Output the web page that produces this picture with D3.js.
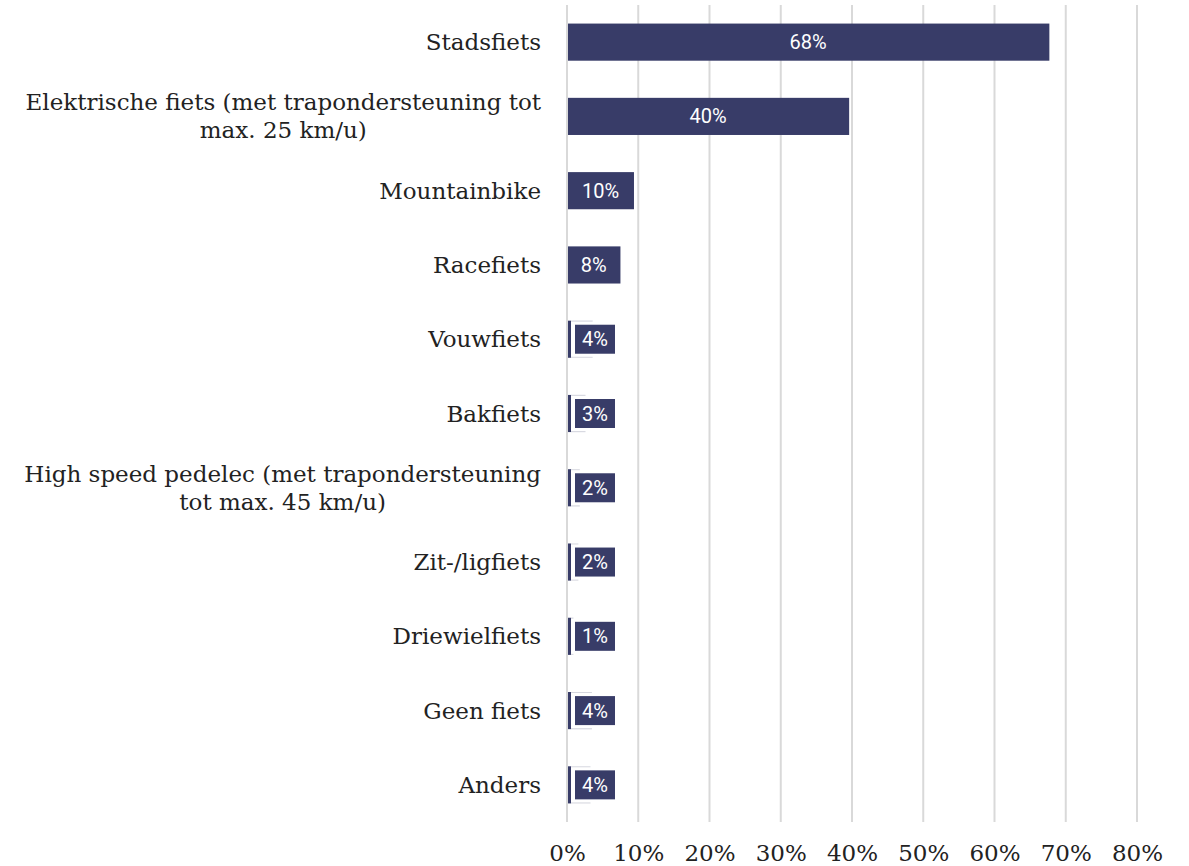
<!DOCTYPE html>
<meta charset="utf-8">
<style>
body { margin: 0; background: #fff; }
.cat { font-family: "DejaVu Serif", serif; font-size: 23px; fill: #222; }
.tick text { font-family: "DejaVu Serif", serif; font-size: 23px; fill: #222; }
.val { font-family: Roboto, "Noto Sans", sans-serif; font-size: 20px; fill: #fff; }
</style>
<body>
<script src="https://cdn.jsdelivr.net/npm/d3@7"></script>
<script>
const categories = ["Stadsfiets", "Elektrische fiets (met trapondersteuning tot max. 25 km/u)", "Mountainbike",
  "Racefiets", "Vouwfiets", "Bakfiets", "High speed pedelec (met trapondersteuning tot max. 45 km/u)",
  "Zit-/ligfiets", "Driewielfiets", "Geen fiets", "Anders"];
const values = [67.7, 39.6, 9.4, 7.5, 3.6, 2.6, 1.8, 1.6, 0.9, 3.5, 3.3];
const valueLabels = ["68%", "40%", "10%", "8%", "4%", "3%", "2%", "2%", "1%", "4%", "4%"];
const ticks = [0, 10, 20, 30, 40, 50, 60, 70, 80];

const W = 1189, H = 866;
const plotLeft = 567, plotRight = 1137, plotTop = 5, plotBottom = 822;
const barColor = "#383c68";

const svg = d3.select("body").append("svg")
  .attr("width", W)
  .attr("height", H);

const x = d3.scaleLinear().domain([0, 80]).range([plotLeft, plotRight]);
const y = d3.scaleBand().domain(categories).range([plotTop, plotBottom]).padding(0.5).paddingOuter(0.25);

// grid
svg.append("g")
  .selectAll("line")
  .data(ticks)
  .enter().append("line")
  .attr("x1", d => x(d)).attr("x2", d => x(d))
  .attr("y1", plotTop).attr("y2", plotBottom)
  .attr("stroke", "#d9d9d9")
  .attr("stroke-width", 2);

// axis
const axis = svg.append("g")
  .attr("transform", "translate(0," + (plotBottom + 19) + ")")
  .call(d3.axisBottom(x).tickValues(ticks).tickFormat(d => d + "%").tickSize(0));
axis.select(".domain").remove();
axis.selectAll("text").attr("dy", "0.75em");

// bars
const rows = svg.append("g").selectAll("g")
  .data(categories)
  .enter().append("g");

rows.append("rect")
  .attr("x", x(0) + 1)
  .attr("y", d => y(d))
  .attr("width", (d, i) => x(values[i]) - x(0) - 1)
  .attr("height", y.bandwidth())
  .attr("fill", barColor);

rows.each(function (d, i) {
  const g = d3.select(this);
  const cy = y(d) + y.bandwidth() / 2;
  const t = g.append("text")
    .attr("class", "val")
    .attr("text-anchor", "middle")
    .attr("dy", "0.35em")
    .text(valueLabels[i]);
  const tw = t.node().getComputedTextLength();
  const barW = x(values[i]) - x(0);
  if (tw + 16 < barW) {
    t.attr("x", x(0) + barW / 2).attr("y", cy);
  } else {
    // label does not fit: white backing, faint bar outline, own box
    const bx = x(0) + 8, bw = 40, bh = 29;
    g.insert("rect", "text")
      .attr("x", x(0) + 4).attr("y", y(d) - 0.5)
      .attr("width", bw + 8).attr("height", y.bandwidth() + 1)
      .attr("fill", "#fff");
    if (barW > 5) {
      [y(d) + 0.5, y(d) + y.bandwidth() - 0.5].forEach(yy => {
        g.insert("line", "text")
          .attr("x1", x(0) + 4).attr("x2", x(values[i]))
          .attr("y1", yy).attr("y2", yy)
          .attr("stroke", "#d6d7df").attr("stroke-width", 1);
      });
    }
    g.insert("rect", "text")
      .attr("x", bx).attr("y", cy - bh / 2)
      .attr("width", bw).attr("height", bh)
      .attr("fill", barColor);
    t.attr("x", bx + bw / 2).attr("y", cy);
  }
});

// category labels, wrapped and centered within a right-aligned block
const maxW = 530, lineH = 28;
rows.each(function (d) {
  const g = d3.select(this);
  const cy = y(d) + y.bandwidth() / 2;
  const words = d.split(" ");
  const probe = g.append("text").attr("class", "cat");
  const lines = [];
  let line = [];
  words.forEach(w => {
    line.push(w);
    probe.text(line.join(" "));
    if (probe.node().getComputedTextLength() > maxW && line.length > 1) {
      line.pop();
      lines.push(line.join(" "));
      line = [w];
    }
  });
  lines.push(line.join(" "));
  const widths = lines.map(l => { probe.text(l); return probe.node().getComputedTextLength(); });
  probe.remove();
  const blockW = d3.max(widths);
  const cx = plotLeft - 26 - blockW / 2;
  const txt = g.append("text").attr("class", "cat").attr("text-anchor", "middle");
  lines.forEach((l, k) => {
    txt.append("tspan")
      .attr("x", cx)
      .attr("y", cy + (k - (lines.length - 1) / 2) * lineH)
      .attr("dy", "0.35em")
      .text(l);
  });
});
</script>
</body>
